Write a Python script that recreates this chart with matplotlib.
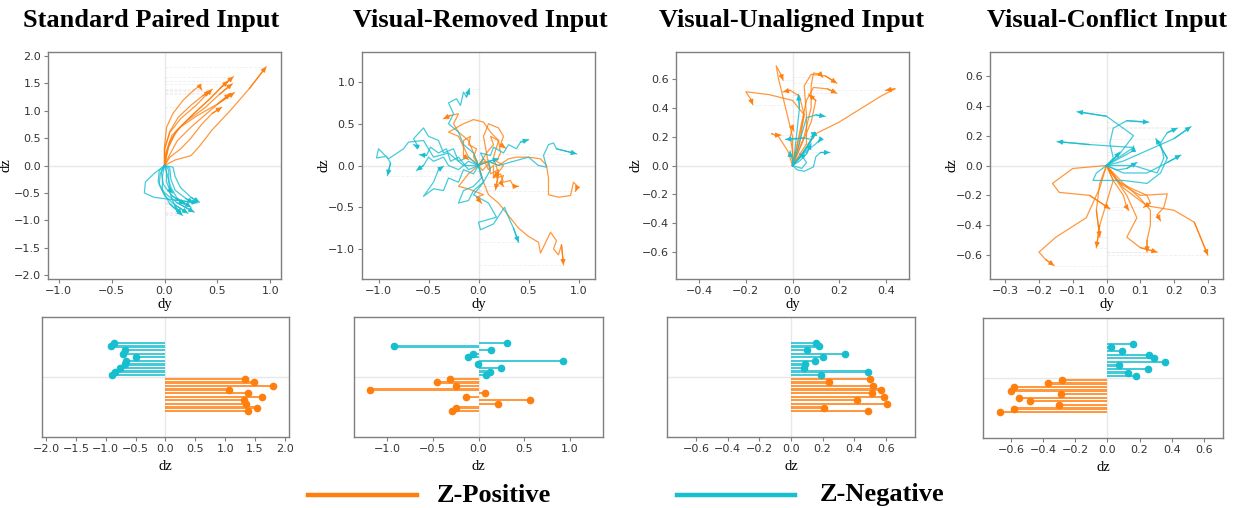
import matplotlib
matplotlib.use("Agg")
import matplotlib.pyplot as plt
from matplotlib.lines import Line2D

POS_COLOR = "#ff7f0e"
NEG_COLOR = "#17becf"

titles = ["Standard Paired Input", "Visual-Removed Input",
          "Visual-Unaligned Input", "Visual-Conflict Input"]
legend_labels = ["Z-Positive", "Z-Negative"]

# ---------------- trajectories (dy, dz) : listed in lollipop order (top -> bottom) ----------
p1_pos = [
    [(0, 0), (0.01, 0.2), (0.05, 0.45), (0.15, 0.7), (0.3, 0.9), (0.5, 1.12), (0.66, 1.33)],
    [(0, 0), (0.02, 0.25), (0.07, 0.55), (0.2, 0.8), (0.38, 1.05), (0.52, 1.3), (0.64, 1.49)],
    [(0, 0), (0.1, 0.1), (0.25, 0.18), (0.33, 0.35), (0.45, 0.65), (0.62, 1.0), (0.8, 1.4), (0.96, 1.80)],
    [(0, 0), (0.05, 0.15), (0.15, 0.3), (0.25, 0.5), (0.35, 0.75), (0.45, 0.95), (0.54, 1.06)],
    [(0, 0), (0.0, 0.3), (0.05, 0.6), (0.15, 0.85), (0.3, 1.1), (0.4, 1.3), (0.45, 1.39)],
    [(0, 0), (0.03, 0.3), (0.1, 0.6), (0.25, 0.9), (0.42, 1.2), (0.55, 1.45), (0.65, 1.62)],
    [(0, 0), (0.05, 0.2), (0.12, 0.45), (0.25, 0.7), (0.4, 0.95), (0.52, 1.15), (0.62, 1.31)],
    [(0, 0), (0.0, 0.3), (0.05, 0.62), (0.13, 0.88), (0.25, 1.1), (0.36, 1.27), (0.43, 1.35)],
    [(0, 0), (0.04, 0.35), (0.12, 0.65), (0.28, 0.95), (0.42, 1.2), (0.52, 1.4), (0.60, 1.54)],
    [(0, 0), (0.0, 0.35), (0.02, 0.7), (0.08, 0.95), (0.18, 1.2), (0.28, 1.38), (0.33, 1.45), (0.35, 1.38)],
]
p1_neg = [
    [(0, 0), (-0.04, -0.15), (-0.05, -0.35), (0.0, -0.55), (0.1, -0.72), (0.22, -0.87)],
    [(0, 0), (-0.02, -0.2), (-0.02, -0.45), (0.05, -0.7), (0.17, -0.91)],
    [(0, 0), (0.05, -0.05), (0.06, -0.25), (0.1, -0.45), (0.2, -0.6), (0.27, -0.68)],
    [(0, 0), (-0.03, -0.12), (-0.01, -0.35), (0.07, -0.55), (0.19, -0.71)],
    [(0, 0), (0.02, -0.1), (0.02, -0.3), (0.05, -0.45), (0.08, -0.50)],
    [(0, 0), (0.08, -0.03), (0.1, -0.2), (0.15, -0.4), (0.25, -0.58), (0.33, -0.67)],
    [(0, 0), (-0.1, -0.15), (-0.18, -0.3), (-0.19, -0.5), (-0.1, -0.58), (0.1, -0.63), (0.31, -0.68)],
    [(0, 0), (0.03, -0.2), (0.06, -0.4), (0.12, -0.6), (0.25, -0.76)],
    [(0, 0), (-0.05, -0.1), (-0.06, -0.3), (0.0, -0.5), (0.12, -0.68), (0.28, -0.85)],
    [(0, 0), (0.04, -0.08), (0.04, -0.3), (0.06, -0.55), (0.1, -0.75), (0.16, -0.89)],
]

p2_pos = [
    [(0, 0), (0.1, 0.05), (0.2, 0.0), (0.3, 0.08), (0.38, 0.1), (0.5, 0.1), (0.62, 0.08), (0.68, 0.0),
     (0.7, -0.15), (0.7, -0.35), (0.8, -0.38), (0.92, -0.36), (0.95, -0.2), (0.99, -0.25), (0.97, -0.31)],
    [(0, 0), (-0.1, -0.1), (-0.2, -0.25), (-0.1, -0.28), (0.05, -0.35), (-0.02, -0.38), (0.03, -0.45)],
    [(0, 0), (0.06, 0.05), (0.1, -0.05), (0.15, 0.0), (0.15, -0.15), (0.22, -0.1), (0.25, -0.2),
     (0.32, -0.18), (0.35, -0.25), (0.4, -0.25)],
    [(0, 0), (0.05, -0.2), (0.1, -0.35), (0.2, -0.45), (0.3, -0.6), (0.4, -0.75), (0.5, -0.85), (0.6, -0.92),
     (0.62, -1.05), (0.68, -0.9), (0.72, -0.8), (0.78, -0.9), (0.75, -1.0), (0.8, -1.07), (0.83, -0.95),
     (0.85, -1.19)],
    [(0, 0), (-0.05, 0.1), (-0.02, 0.2), (-0.1, 0.25), (-0.08, 0.35), (-0.15, 0.3), (-0.15, 0.12),
     (-0.1, 0.07)],
    [(0, 0), (0.05, 0.08), (0.1, 0.02), (0.08, 0.15), (0.15, 0.25), (0.12, 0.35), (0.2, 0.3), (0.22, 0.15),
     (0.18, 0.05), (0.25, 0.0), (0.2, -0.08), (0.15, -0.14)],
    [(0, 0), (-0.05, 0.15), (-0.1, 0.3), (-0.2, 0.4), (-0.25, 0.5), (-0.2, 0.62), (-0.28, 0.6), (-0.35, 0.56)],
    [(0, 0), (0.08, 0.15), (0.05, 0.35), (0.1, 0.5), (0.2, 0.45), (0.25, 0.35), (0.22, 0.25), (0.27, 0.21)],
    [(0, 0), (0.04, -0.06), (0.1, 0.02), (0.12, -0.1), (0.2, -0.05), (0.18, -0.15), (0.25, -0.12),
     (0.22, -0.2), (0.25, -0.25)],
    [(0, 0), (-0.1, 0.1), (-0.2, 0.35), (-0.3, 0.4), (-0.15, 0.5), (-0.05, 0.55), (0.05, 0.52), (0.12, 0.4),
     (0.2, 0.3), (0.15, 0.1), (0.2, -0.1), (0.17, -0.29)],
]
p2_neg = [
    [(0, 0), (0.05, 0.08), (0.02, 0.15), (0.12, 0.12), (0.15, 0.22), (0.25, 0.15), (0.3, 0.25), (0.38, 0.2),
     (0.42, 0.28), (0.5, 0.31)],
    [(0, 0), (0.05, -0.2), (-0.05, -0.35), (0.1, -0.45), (0.18, -0.62), (0.0, -0.68), (0.02, -0.77),
     (0.15, -0.7), (0.26, -0.5), (0.3, -0.62), (0.35, -0.75), (0.4, -0.92)],
    [(0, 0), (0.1, 0.05), (0.2, 0.0), (0.35, 0.05), (0.5, 0.1), (0.6, 0.0), (0.68, -0.02), (0.65, 0.12),
     (0.7, 0.25), (0.75, 0.27), (0.78, 0.2), (0.98, 0.14)],
    [(0, 0), (-0.1, 0.05), (-0.2, -0.05), (-0.3, 0.0), (-0.35, 0.1), (-0.45, 0.05), (-0.5, 0.1),
     (-0.55, 0.0), (-0.62, -0.06)],
    [(0, 0), (-0.15, 0.0), (-0.3, 0.15), (-0.45, 0.1), (-0.55, 0.3), (-0.7, 0.28), (-0.75, 0.2), (-0.9, 0.08),
     (-1.0, 0.2), (-1.02, 0.09), (-0.92, 0.11), (-0.88, 0.03), (-0.91, -0.12)],
    [(0, 0), (-0.05, 0.15), (-0.15, 0.25), (-0.2, 0.4), (-0.3, 0.5), (-0.25, 0.62), (-0.3, 0.75),
     (-0.22, 0.8), (-0.18, 0.72), (-0.15, 0.88), (-0.12, 0.82), (-0.09, 0.92)],
    [(0, 0), (-0.05, -0.1), (-0.15, -0.05), (-0.2, -0.2), (-0.3, -0.15), (-0.35, -0.3), (-0.45, -0.28),
     (-0.55, -0.37), (-0.45, -0.2), (-0.4, -0.05), (-0.35, -0.01)],
    [(0, 0), (-0.1, 0.1), (-0.2, 0.05), (-0.25, 0.2), (-0.35, 0.15), (-0.4, 0.3), (-0.5, 0.35),
     (-0.55, 0.45), (-0.65, 0.32), (-0.6, 0.22), (-0.65, 0.25)],
    [(0, 0), (-0.1, -0.05), (-0.2, 0.1), (-0.28, 0.05), (-0.32, 0.2), (-0.4, 0.15), (-0.48, 0.22),
     (-0.52, 0.12), (-0.59, 0.13)],
    [(0, 0), (0.03, -0.15), (-0.05, -0.25), (-0.15, -0.3), (-0.2, -0.45), (-0.1, -0.42), (-0.05, -0.3),
     (0.05, -0.2), (0.12, -0.05), (0.1, 0.05), (0.2, 0.08)],
]

p3_pos = [
    [(0, 0), (0.02, 0.15), (0.04, 0.3), (0.06, 0.45), (0.09, 0.54), (0.15, 0.53), (0.19, 0.50)],
    [(0, 0), (0.0, 0.1), (-0.01, 0.2), (0.0, 0.26), (0.006, 0.24)],
    [(0, 0), (0.05, 0.1), (0.1, 0.22), (0.2, 0.3), (0.3, 0.4), (0.38, 0.48), (0.44, 0.53), (0.40, 0.52)],
    [(0, 0), (0.06, 0.15), (0.06, 0.35), (0.05, 0.55), (0.08, 0.63), (0.14, 0.62), (0.19, 0.57)],
    [(0, 0), (0.03, 0.15), (0.05, 0.35), (0.03, 0.48), (-0.01, 0.52), (-0.04, 0.51)],
    [(0, 0), (0.0, 0.2), (-0.03, 0.4), (-0.06, 0.6), (-0.07, 0.69), (-0.05, 0.63), (-0.04, 0.59)],
    [(0, 0), (0.03, 0.2), (0.05, 0.35), (0.0, 0.45), (-0.1, 0.49), (-0.2, 0.51), (-0.18, 0.46), (-0.17, 0.42)],
    [(0, 0), (0.05, 0.2), (0.08, 0.4), (0.08, 0.55), (0.09, 0.64), (0.12, 0.63), (0.13, 0.61)],
    [(0, 0), (-0.02, 0.1), (-0.06, 0.2), (-0.09, 0.22), (-0.07, 0.21), (-0.05, 0.21)],
    [(0, 0), (0.04, 0.15), (0.08, 0.3), (0.1, 0.45), (0.07, 0.49)],
]
p3_neg = [
    [(0, 0), (0.03, 0.05), (0.06, 0.1), (0.1, 0.15), (0.12, 0.18), (0.11, 0.16)],
    [(0, 0), (0.04, 0.08), (0.08, 0.18), (0.05, 0.19), (-0.03, 0.18)],
    [(0, 0), (0.0, 0.04), (-0.01, 0.08), (-0.01, 0.10)],
    [(0, 0), (0.02, 0.1), (0.04, 0.22), (0.06, 0.33), (0.1, 0.35), (0.14, 0.34)],
    [(0, 0), (0.03, 0.05), (0.06, 0.12), (0.09, 0.21), (0.08, 0.20)],
    [(0, 0), (0.03, 0.03), (0.06, 0.08), (0.08, 0.15)],
    [(0, 0), (0.02, -0.03), (0.05, -0.04), (0.09, -0.01), (0.1, 0.06), (0.12, 0.09), (0.16, 0.09)],
    [(0, 0), (0.04, -0.02), (0.06, 0.02), (0.04, 0.07), (0.03, 0.08)],
    [(0, 0), (0.01, 0.1), (0.02, 0.25), (0.03, 0.4), (0.025, 0.49)],
    [(0, 0), (0.04, 0.07), (0.07, 0.14), (0.09, 0.21), (0.09, 0.19)],
]

p4_pos = [
    [(0, 0), (0.03, -0.1), (0.07, -0.15), (0.12, -0.2), (0.13, -0.25), (0.11, -0.28)],
    [(0, 0), (0.04, -0.12), (0.1, -0.2), (0.18, -0.19), (0.17, -0.28), (0.15, -0.33), (0.16, -0.37)],
    [(0, 0), (0.05, -0.12), (0.1, -0.22), (0.13, -0.3), (0.13, -0.4), (0.12, -0.5), (0.12, -0.58)],
    [(0, 0), (0.05, -0.15), (0.12, -0.27), (0.2, -0.3), (0.26, -0.38), (0.30, -0.60)],
    [(0, 0), (-0.1, -0.02), (-0.16, -0.12), (-0.14, -0.18), (-0.05, -0.2), (0.01, -0.29)],
    [(0, 0), (0.02, -0.1), (0.0, -0.25), (-0.02, -0.4), (-0.03, -0.55)],
    [(0, 0), (-0.02, -0.12), (-0.03, -0.3), (-0.02, -0.48)],
    [(0, 0), (0.02, -0.1), (0.05, -0.2), (0.06, -0.28), (0.066, -0.30)],
    [(0, 0), (0.03, -0.1), (0.06, -0.2), (0.09, -0.35), (0.06, -0.48), (0.1, -0.55), (0.15, -0.58)],
    [(0, 0), (-0.02, -0.15), (-0.06, -0.35), (-0.15, -0.48), (-0.2, -0.58), (-0.18, -0.63), (-0.155, -0.67)],
]
p4_neg = [
    [(0, 0), (0.04, 0.06), (0.08, 0.12), (-0.05, 0.14), (-0.146, 0.16)],
    [(0, 0), (0.03, -0.03), (0.06, -0.02), (0.09, 0.02)],
    [(0, 0), (0.02, 0.04), (0.04, 0.09)],
    [(0, 0), (0.05, 0.03), (0.12, 0.1), (0.2, 0.18), (0.25, 0.26)],
    [(0, 0), (0.02, 0.05), (0.01, 0.15), (0.02, 0.25), (0.06, 0.3), (0.125, 0.29)],
    [(0, 0), (0.04, 0.08), (0.08, 0.2), (0.0, 0.33), (-0.087, 0.36)],
    [(0, 0), (0.05, -0.05), (0.12, -0.05), (0.18, 0.02), (0.22, 0.07)],
    [(0, 0), (0.08, 0.0), (0.15, -0.05), (0.17, 0.05), (0.16, 0.15), (0.18, 0.22), (0.21, 0.25)],
    [(0, 0), (0.04, 0.05), (0.08, 0.1), (0.08, 0.13)],
    [(0, 0), (-0.03, -0.05), (-0.04, -0.1), (0.05, -0.1), (0.12, -0.12), (0.16, -0.05), (0.18, 0.05), (0.146, 0.18)],
]

pos_sets = [p1_pos, p2_pos, p3_pos, p4_pos]
neg_sets = [p1_neg, p2_neg, p3_neg, p4_neg]

top_xlims = [(-1.1, 1.1), (-1.165, 1.165), (-0.5, 0.5), (-0.345, 0.345)]
top_ylims = [(-2.07, 2.07), (-1.36, 1.36), (-0.785, 0.785), (-0.76, 0.76)]
top_xticks = [[-1.0, -0.5, 0.0, 0.5, 1.0], [-1.0, -0.5, 0.0, 0.5, 1.0],
              [-0.4, -0.2, 0.0, 0.2, 0.4], [-0.3, -0.2, -0.1, 0.0, 0.1, 0.2, 0.3]]
top_yticks = [[-2.0, -1.5, -1.0, -0.5, 0.0, 0.5, 1.0, 1.5, 2.0], [-1.0, -0.5, 0.0, 0.5, 1.0],
              [-0.6, -0.4, -0.2, 0.0, 0.2, 0.4, 0.6], [-0.6, -0.4, -0.2, 0.0, 0.2, 0.4, 0.6]]
bot_xlims = [(-2.07, 2.07), (-1.36, 1.36), (-0.785, 0.785), (-0.775, 0.72)]
bot_xticks = [[-2.0, -1.5, -1.0, -0.5, 0.0, 0.5, 1.0, 1.5, 2.0], [-1.0, -0.5, 0.0, 0.5, 1.0],
              [-0.6, -0.4, -0.2, 0.0, 0.2, 0.4, 0.6], [-0.6, -0.4, -0.2, 0.0, 0.2, 0.4, 0.6]]

W, H = 1233, 508
fig = plt.figure(figsize=(W / 100, H / 100), dpi=100)

top_boxes = [(48, 52, 233, 227), (362, 52, 233, 227), (676, 52, 233, 227), (990, 52, 233, 227)]
bot_boxes = [(42, 317, 247, 120), (354, 317, 249, 120), (667, 317, 248, 120), (983, 318, 240, 120)]
title_centers = [151, 480, 792, 1107]
ylabel_x = [13, 330, 643, 959]


def fbox(b):
    x, y, w, h = b
    return [x / W, 1 - (y + h) / H, w / W, h / H]


SPINE = "#7f7f7f"
LABEL_FONT = dict(family="Liberation Serif", fontsize=10.5)


def style(ax):
    for s in ax.spines.values():
        s.set_color(SPINE)
        s.set_linewidth(1.0)
    ax.tick_params(colors="#333333", labelsize=8, length=3, width=0.8, pad=2)
    ax.tick_params(axis="both", color=SPINE)


def draw_traj(ax, path, color):
    xs = [p[0] for p in path]
    ys = [p[1] for p in path]
    ax.plot([0, xs[-1]], [ys[-1], ys[-1]], color="#d8d8d8", lw=0.6, ls="--", alpha=0.4, zorder=1)
    ax.plot(xs, ys, color=color, lw=0.9, alpha=0.8, zorder=3)
    ax.annotate("", xy=path[-1], xytext=path[-2],
                arrowprops=dict(arrowstyle="-|>", color=color, lw=0.9, mutation_scale=7,
                                shrinkA=0, shrinkB=0, alpha=0.9), zorder=4)


for i in range(4):
    tb = top_boxes[i]
    ax = fig.add_axes(fbox(tb))
    style(ax)
    ax.axhline(0, color="#e8e8e8", lw=1, zorder=0)
    ax.axvline(0, color="#e8e8e8", lw=1, zorder=0)
    for path in pos_sets[i]:
        draw_traj(ax, path, POS_COLOR)
    for path in neg_sets[i]:
        draw_traj(ax, path, NEG_COLOR)
    ax.set_xlim(*top_xlims[i])
    ax.set_ylim(*top_ylims[i])
    ax.set_xticks(top_xticks[i])
    ax.set_yticks(top_yticks[i])
    ax.set_xlabel("dy", **LABEL_FONT)
    ax.set_ylabel("dz", **LABEL_FONT)
    ax.xaxis.set_label_coords(0.5, (279 - 298) / 227)
    ax.yaxis.set_label_coords((ylabel_x[i] - tb[0]) / tb[2], 0.5)
    fig.text(title_centers[i] / W, 1 - 20 / H, titles[i], ha="center", va="center",
             family="Liberation Serif", fontweight="bold", fontsize=19)

    # lollipop of final dz
    bb = bot_boxes[i]
    bx = fig.add_axes(fbox(bb))
    style(bx)
    bx.axhline(0, color="#e8e8e8", lw=1, zorder=0)
    bx.axvline(0, color="#e8e8e8", lw=1, zorder=0)
    n_neg = len(neg_sets[i])
    for k, path in enumerate(neg_sets[i]):
        y = 0.5 + (n_neg - 1 - k)
        v = path[-1][1]
        bx.barh(y, v, height=0.62, color=NEG_COLOR, alpha=0.8, linewidth=0, zorder=2)
        bx.plot([v], [y], "o", color=NEG_COLOR, ms=4.5, zorder=3)
    for k, path in enumerate(pos_sets[i]):
        y = -0.5 - k
        v = path[-1][1]
        bx.barh(y, v, height=0.62, color=POS_COLOR, alpha=0.8, linewidth=0, zorder=2)
        bx.plot([v], [y], "o", color=POS_COLOR, ms=4.5, zorder=3)
    bx.set_ylim(-16.7, 16.7)
    bx.set_xlim(*bot_xlims[i])
    bx.set_xticks(bot_xticks[i])
    bx.set_yticks([])
    bx.set_xlabel("dz", **LABEL_FONT)
    bx.xaxis.set_label_coords(0.5, (437 - 460) / 120)

# legend
fig.add_artist(Line2D([308 / W, 417 / W], [1 - 495 / H, 1 - 495 / H], color=POS_COLOR, lw=3.2))
fig.add_artist(Line2D([677 / W, 795 / W], [1 - 495 / H, 1 - 495 / H], color=NEG_COLOR, lw=3.2))
fig.text(437 / W, 1 - 495 / H, legend_labels[0], ha="left", va="center",
         family="Liberation Serif", fontweight="bold", fontsize=19)
fig.text(820 / W, 1 - 495 / H, legend_labels[1], ha="left", va="center",
         family="Liberation Serif", fontweight="bold", fontsize=19)

fig.savefig("out.png", dpi=100, facecolor="white")
